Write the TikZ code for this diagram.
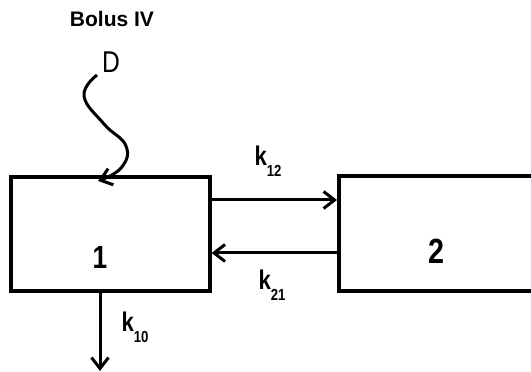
\documentclass[tikz,border=0pt]{standalone}
\usepackage{fontspec}
\setmainfont{Liberation Sans}
\newfontfamily\narrowfont[FakeStretch=0.82]{Liberation Sans}
\usetikzlibrary{arrows.meta}
\newcommand{\kk}[1]{k\raisebox{-11pt}{\fontsize{16}{16}\selectfont #1}}
\begin{document}
\begin{tikzpicture}[x=1pt,y=1pt,
  comp/.style={draw=black, line width=3.6pt, inner sep=0pt},
  flow/.style={line width=3pt, -{Straight Barb[length=11pt,width=17pt,line width=3pt]}},
  klab/.style={font=\narrowfont\bfseries\fontsize{27}{27}\selectfont, inner sep=0pt},
  numlab/.style={font=\narrowfont\bfseries\fontsize{32}{32}\selectfont, inner sep=0pt}]
\useasboundingbox (0,0) rectangle (531,372);
\fill[white] (0,0) rectangle (531,372);
% compartments
\node[comp, minimum width=199pt, minimum height=114pt, anchor=south west] (c1) at (9,79) {};
\node[comp, minimum width=210pt, minimum height=115pt, anchor=south west] (c2) at (337,79) {};
\node[numlab] (n1) at (100,115) {1};
\node[numlab, font=\narrowfont\bfseries\fontsize{35}{35}\selectfont] (n2) at (436,121) {2};
% dose
\node[font=\bfseries\fontsize{21}{21}\selectfont, inner sep=0pt] (bolus) at (112,353) {Bolus IV};
\node[font=\narrowfont\fontsize{30}{30}\selectfont, inner sep=0pt] (D) at (111,310) {D};
\coordinate (dstart) at (97,297);
\coordinate (dend) at (98,191);
\draw[flow] plot[smooth, tension=0.75] coordinates {(dstart) (84,276) (104,248) (126,226) (121,204) (dend)};
% transfers
\coordinate (a12s) at (c1.east |- 0,172);
\coordinate (a12e) at (c2.west |- 0,172);
\coordinate (a21s) at (c2.west |- 0,119);
\coordinate (a21e) at (c1.east |- 0,119);
\draw[flow] (a12s) -- (a12e);
\draw[flow] (a21s) -- (a21e);
\node[klab] (k12) at (268,211) {\kk{12}};
\node[klab] (k21) at (272,87) {\kk{21}};
% elimination
\coordinate (eltop) at (c1.south -| 100,0);
\coordinate (elend) at (100,1);
\draw[flow] (eltop) -- (elend);
\node[klab] (k10) at (135,45) {\kk{10}};
\end{tikzpicture}
\end{document}
